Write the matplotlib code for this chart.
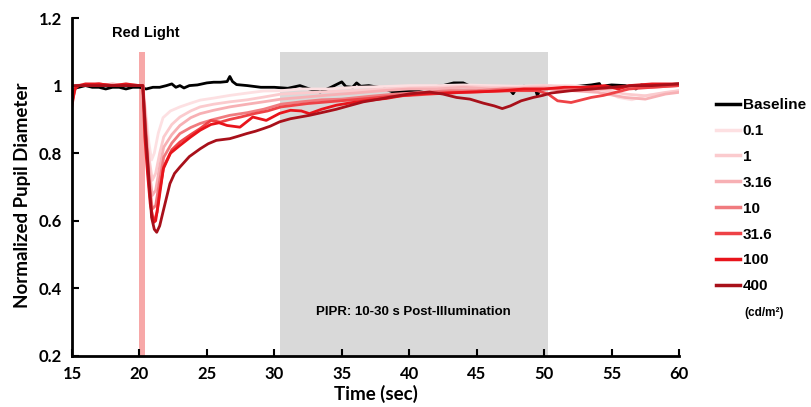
import matplotlib
matplotlib.use('Agg')
import matplotlib.pyplot as plt

# --- data ---
labels = ['Baseline', '0.1', '1', '3.16', '10', '31.6', '100', '400']
colors = ['#000000', '#fde0e2', '#fbcbce', '#f7b0b4', '#f07b7f', '#ee4246', '#e8141b', '#a8101a']

t_base = [15.0, 15.5, 16, 16.5, 17, 17.5, 18, 18.5, 19, 19.5, 20, 20.5, 21, 21.5, 22, 22.4, 22.7, 23, 23.3,
          23.7, 24.3, 25, 25.5, 26, 26.5, 26.7, 26.9, 27.2, 28, 29, 30, 31, 31.9, 32.6, 33.4, 34.2, 35.0,
          35.3, 35.8, 36.1, 36.4, 37, 38, 38.8, 39.5, 40.5, 41.5, 42.5, 43.3, 44.0, 44.6, 45.5, 46.5, 47.3,
          47.7, 48.0, 48.5, 49.3, 49.5, 49.8, 50.5, 51.5, 52.5, 53.5, 54.1, 54.3, 54.6, 55, 56, 56.8, 57.2,
          58, 59, 60]
v_base = [0.99, 0.995, 1.0, 0.995, 0.995, 0.99, 0.995, 0.995, 0.99, 0.995, 0.995, 0.99, 0.995, 0.995, 1.0,
          1.005, 0.995, 1.0, 0.993, 1.0, 1.002, 1.008, 1.01, 1.01, 1.012, 1.027, 1.012, 1.003, 1.0, 0.995,
          0.995, 0.992, 1.0, 0.99, 0.981, 0.995, 1.011, 0.997, 0.995, 1.008, 0.998, 1.0, 0.993, 0.981,
          0.983, 0.986, 0.995, 1.0, 1.008, 1.008, 0.997, 0.991, 0.99, 0.995, 0.976, 0.995, 0.998, 0.995,
          0.971, 0.997, 0.998, 0.996, 0.998, 1.002, 1.006, 0.99, 1.0, 1.002, 1.0, 0.99, 1.002, 1.0, 1.002,
          1.005]

t_01 = [15.0, 15.2, 16, 17, 18, 19, 20, 20.25, 20.45, 20.7, 20.9, 21.1, 21.4, 21.75, 22.3, 23, 23.8, 24.5,
        25.5, 26.7, 28, 29.2, 30.5, 32, 34, 36, 38, 40, 42, 44, 46, 48, 50, 52, 54, 55.5, 56.5, 57.5, 58.5, 60]
v_01 = [0.97, 1.0, 1.005, 1.0, 1.005, 1.0, 1.0, 1.0, 0.93, 0.83, 0.78, 0.80, 0.86, 0.905, 0.925, 0.937,
        0.948, 0.957, 0.963, 0.971, 0.978, 0.984, 0.985, 0.99, 0.99, 0.995, 0.997, 1.0, 1.0, 1.002, 1.0,
        0.998, 1.0, 1.0, 0.993, 0.965, 0.958, 0.97, 0.975, 0.985]

t_1 = [15.0, 15.3, 16, 17, 18, 19, 20, 20.25, 20.45, 20.7, 20.95, 21.2, 21.5, 21.8, 22.4, 23, 23.8, 24.5,
       25.5, 26.7, 28, 29.2, 30.5, 32, 34, 36, 38, 40, 42, 44, 46, 48, 50, 52, 54, 56, 57.5, 59, 60]
v_1 = [0.99, 1.0, 1.0, 1.005, 1.0, 1.005, 1.0, 1.0, 0.91, 0.79, 0.72, 0.74, 0.80, 0.848, 0.885, 0.907,
       0.925, 0.937, 0.945, 0.952, 0.958, 0.966, 0.975, 0.978, 0.982, 0.985, 0.99, 0.993, 0.995, 0.998,
       0.995, 0.995, 1.0, 0.995, 0.99, 0.975, 0.97, 0.98, 0.985]

t_316 = [15.0, 16, 17, 18, 19, 20, 20.25, 20.45, 20.7, 20.95, 21.2, 21.5, 21.8, 22.4, 23, 23.8, 24.5, 25.5,
         26.7, 28, 29.2, 30.5, 32, 34, 36, 38, 40, 42, 44, 46, 48, 50, 52, 54, 56, 57.5, 59, 60]
v_316 = [1.0, 1.0, 1.0, 1.005, 1.0, 1.0, 1.0, 0.90, 0.76, 0.675, 0.69, 0.76, 0.818, 0.855, 0.882, 0.905,
         0.917, 0.927, 0.937, 0.945, 0.952, 0.96, 0.965, 0.972, 0.978, 0.985, 0.99, 0.99, 0.995, 0.99,
         0.992, 0.995, 0.985, 0.98, 0.965, 0.96, 0.975, 0.98]

t_10 = [15.0, 15.3, 16, 17, 18, 19, 20, 20.25, 20.45, 20.7, 20.95, 21.2, 21.5, 21.8, 22.4, 23, 23.8, 24.5,
        25.5, 26.7, 28, 29.2, 30.5, 32, 33.5, 35, 37, 39, 41, 43, 45, 47, 49, 50.5, 52, 54, 56, 58, 60]
v_10 = [0.96, 1.0, 1.0, 1.0, 1.0, 1.0, 1.0, 1.0, 0.88, 0.73, 0.635, 0.645, 0.72, 0.788, 0.83, 0.858, 0.876,
        0.888, 0.90, 0.912, 0.92, 0.93, 0.945, 0.952, 0.958, 0.96, 0.968, 0.975, 0.98, 0.985, 0.985, 0.99,
        0.99, 0.99, 0.985, 0.99, 0.995, 0.995, 1.0]

t_316b = [15.0, 15.3, 16, 17, 18, 19, 20, 20.25, 20.45, 20.7, 20.95, 21.1, 21.3, 21.5, 21.8, 22.4, 23, 23.8,
          24.5, 25.3, 26, 26.7, 27.5, 28.5, 29.5, 30.5, 31.5, 32.5, 34, 35.5, 37, 38.5, 40, 42, 44, 46, 48,
          49.5, 50.3, 51, 52, 52.7, 53.5, 54.4, 55.3, 56.3, 58, 60]
v_316b = [0.95, 1.0, 1.0, 1.005, 1.0, 1.0, 1.0, 1.0, 0.87, 0.71, 0.61, 0.60, 0.625, 0.69, 0.76, 0.81, 0.833,
          0.855, 0.873, 0.897, 0.892, 0.90, 0.907, 0.917, 0.925, 0.937, 0.942, 0.947, 0.952, 0.957, 0.962,
          0.968, 0.971, 0.976, 0.98, 0.983, 0.985, 0.985, 0.975, 0.955, 0.95, 0.957, 0.965, 0.971, 0.98,
          0.99, 0.995, 1.0]

t_100 = [15.0, 15.2, 15.5, 16, 17, 18, 19, 20, 20.25, 20.4, 20.6, 20.8, 21.05, 21.2, 21.4, 21.77, 22.3, 23,
         23.8, 24.5, 25.3, 25.9, 26.5, 27.45, 28.4, 29.4, 30.4, 31.2, 32.0, 32.6, 33.5, 34.6, 35.8, 37.1,
         38.3, 39.6, 41, 42.5, 44, 45.5, 47, 48.5, 50, 51.5, 53, 54.5, 55.5, 56.3, 58, 60]
v_100 = [0.94, 0.99, 1.0, 1.005, 1.005, 1.0, 1.005, 1.0, 1.0, 0.848, 0.74, 0.65, 0.595, 0.60, 0.65, 0.754,
         0.80, 0.823, 0.848, 0.868, 0.885, 0.89, 0.882, 0.877, 0.907, 0.897, 0.918, 0.927, 0.925, 0.917,
         0.93, 0.942, 0.95, 0.957, 0.962, 0.971, 0.976, 0.978, 0.98, 0.982, 0.985, 0.99, 0.99, 0.995,
         0.995, 1.0, 0.99, 1.0, 1.005, 1.005]

t_400 = [15.0, 16, 17, 18, 19, 20, 20.25, 20.45, 20.66, 20.9, 21.1, 21.28, 21.5, 21.77, 22.26, 22.6, 23,
         23.7, 24.5, 25.1, 25.7, 26.7, 27.3, 27.95, 28.6, 29.2, 29.7, 30.4, 31.2, 32.6, 33.5, 34.6, 35.5,
         36.6, 37.5, 38.6, 40.1, 41.5, 42.5, 43.5, 44.5, 45.5, 46.3, 46.9, 47.5, 48.3, 49.2, 49.9, 50.5,
         52, 53.5, 55, 56.5, 58, 60]
v_400 = [1.0, 1.0, 1.0, 1.0, 1.0, 1.0, 1.0, 0.86, 0.749, 0.61, 0.575, 0.566, 0.585, 0.63, 0.71, 0.74, 0.759,
         0.79, 0.813, 0.828, 0.838, 0.843, 0.85, 0.858, 0.865, 0.873, 0.88, 0.893, 0.902, 0.912, 0.92, 0.93,
         0.94, 0.952, 0.958, 0.966, 0.976, 0.981, 0.975, 0.965, 0.96, 0.948, 0.94, 0.932, 0.94, 0.955,
         0.965, 0.971, 0.978, 0.985, 0.99, 0.995, 1.0, 1.0, 1.005]

times = [t_base, t_01, t_1, t_316, t_10, t_316b, t_100, t_400]
values = [v_base, v_01, v_1, v_316, v_10, v_316b, v_100, v_400]

xticks = [15, 20, 25, 30, 35, 40, 45, 50, 55, 60]
yticks = [0.2, 0.4, 0.6, 0.8, 1.0, 1.2]
ytick_labels = ['0.2', '0.4', '0.6', '0.8', '1', '1.2']

narrow = ['Lato', 'DejaVu Sans']
arial = ['Liberation Sans', 'DejaVu Sans']

fig = plt.figure(figsize=(8.12, 4.07), dpi=100)
ax = fig.add_axes([72 / 812, 1 - 356 / 407, (679 - 72) / 812, (356 - 18) / 407])

# shaded regions
ax.axvspan(30.4, 50.3, ymin=0, ymax=0.9, color='#d9d9d9', lw=0, zorder=0)
ax.axvspan(20.0, 20.4, ymin=0, ymax=0.9, color='#f7a8a8', lw=0, zorder=0)

for t, v, c, lab in zip(times, values, colors, labels):
    ax.plot(t, v, color=c, lw=2.0, label=lab, solid_joinstyle='round')

ax.set_xlim(15, 60)
ax.set_ylim(0.2, 1.2)
ax.set_xticks(xticks)
ax.set_yticks(yticks)
ax.set_yticklabels(ytick_labels)
for s in ['top', 'right']:
    ax.spines[s].set_visible(False)
for s in ['left', 'bottom']:
    ax.spines[s].set_linewidth(2)
ax.tick_params(direction='in', length=5, width=1.5, pad=7)
for lbl in ax.get_xticklabels() + ax.get_yticklabels():
    lbl.set_family(narrow)
    lbl.set_fontweight('bold')
    lbl.set_fontsize(12)

ax.set_xlabel('Time (sec)', family=narrow, fontweight='bold', fontsize=13.5)
ax.xaxis.set_label_coords(0.5, -0.085)
ax.set_ylabel('Normalized Pupil Diameter', family=narrow, fontweight='bold', fontsize=13.5)
ax.yaxis.set_label_coords(-0.067, 0.475)

ax.text(20.5, 1.157, 'Red Light', family=arial, fontweight='bold', fontsize=10.5, ha='center', va='center')
ax.text(40.3, 0.33, 'PIPR: 10-30 s Post-Illumination', family=arial, fontweight='bold', fontsize=9.5,
        ha='center', va='center')

leg = ax.legend(loc='upper left', bbox_to_anchor=(716 / 812, 1 - 98 / 407), bbox_transform=fig.transFigure,
                frameon=False, borderpad=0, borderaxespad=0, handlelength=1.6, handletextpad=0.15,
                labelspacing=0.78, prop={'family': arial, 'weight': 'bold', 'size': 11})
for line in leg.get_lines():
    line.set_linewidth(2.5)

fig.text(764 / 812, 1 - 313 / 407, '(cd/m²)', family=arial, fontweight='bold', fontsize=8.5,
         ha='center', va='center')

fig.savefig('out.png', dpi=100)
